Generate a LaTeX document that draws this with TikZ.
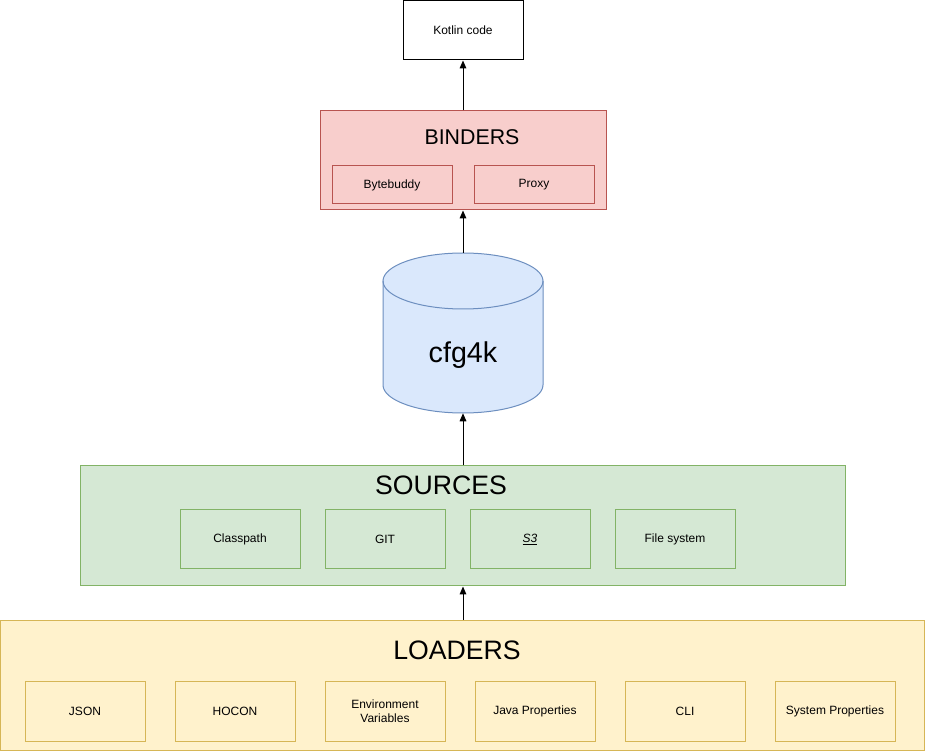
\documentclass[tikz,border=0pt]{standalone}
\usepackage{fontspec}
\setmainfont{Liberation Sans}
\usetikzlibrary{arrows.meta}
\definecolor{redfill}{HTML}{F8CECC}\definecolor{redline}{HTML}{B85450}
\definecolor{bluefill}{HTML}{DAE8FC}\definecolor{blueline}{HTML}{6C8EBF}
\definecolor{greenfill}{HTML}{D5E8D4}\definecolor{greenline}{HTML}{82B366}
\definecolor{yellowfill}{HTML}{FFF2CC}\definecolor{yellowline}{HTML}{D6B656}
\tikzset{
  box/.style={rectangle, inner sep=0pt, line width=0.75pt, font=\fontsize{9}{10.5}\selectfont, align=center},
  redbox/.style={box, draw=redline, fill=redfill},
  greenbox/.style={box, draw=greenline, fill=greenfill},
  yellowbox/.style={box, draw=yellowline, fill=yellowfill},
  title/.style={font=\fontsize{20}{24}\selectfont, inner sep=0pt},
  conn/.style={line width=0.75pt, -{Triangle[length=6pt,width=5pt]}},
}
\begin{document}
\begin{tikzpicture}[x=0.75pt,y=-0.75pt]
\useasboundingbox (0,0) rectangle (926,752);
% Kotlin code
\node[box, draw=black, fill=white, minimum width=90pt, minimum height=44.25pt] (kotlin) at (463,30.5) {Kotlin code};
% Binders
\node[redbox, minimum width=214.5pt, minimum height=74.25pt] (binders) at (463,160.5) {};
\node[title, font=\fontsize{16}{19}\selectfont] (bindt) at (472,137.5) {BINDERS};
\node[redbox, minimum width=90pt, minimum height=28.5pt] (bytebuddy) at (392,185) {Bytebuddy};
\node[redbox, minimum width=90pt, minimum height=28.5pt] (proxy) at (534,185) {Proxy};
% Cylinder
\node[rectangle, minimum width=120pt, minimum height=120pt, inner sep=0pt] (db) at (463,333) {};
\fill[bluefill] (383,281) -- (383,385) arc[start angle=180, end angle=360, x radius=60pt, y radius=21pt] -- (543,281) arc[start angle=0, end angle=180, x radius=60pt, y radius=21pt] -- cycle;
\draw[blueline, line width=0.75pt] (383,281) -- (383,385) arc[start angle=180, end angle=360, x radius=60pt, y radius=21pt] -- (543,281);
\draw[blueline, line width=0.75pt] (463,281) ellipse[x radius=60pt, y radius=21pt];
\node[font=\fontsize{21.5}{25}\selectfont, inner sep=0pt] (dbt) at (463,355) {cfg4k};
% Sources
\node[greenbox, minimum width=573.75pt, minimum height=90pt] (sources) at (462.5,526) {};
\node[title] (sourt) at (441,485) {SOURCES};
\node[greenbox, minimum width=90pt, minimum height=44.25pt] (classpath) at (240,539.5) {Classpath};
\node[greenbox, minimum width=90pt, minimum height=44.25pt] (git) at (385,539.5) {GIT};
\node[greenbox, minimum width=90pt, minimum height=44.25pt] (s3) at (530,539.5) {\underline{\textit{S3}}};
\node[greenbox, minimum width=90pt, minimum height=44.25pt] (fs) at (675,539.5) {File system};
% Loaders
\node[yellowbox, minimum width=693pt, minimum height=97.5pt] (loaders) at (462.5,685.5) {};
\node[title] (loadt) at (457,650) {LOADERS};
\node[yellowbox, minimum width=90pt, minimum height=45pt] (json) at (85,711) {JSON};
\node[yellowbox, minimum width=90pt, minimum height=45pt] (hocon) at (235,711) {HOCON};
\node[yellowbox, minimum width=90pt, minimum height=45pt] (env) at (385,711) {Environment\\Variables};
\node[yellowbox, minimum width=90pt, minimum height=45pt] (java) at (535,711) {Java Properties};
\node[yellowbox, minimum width=90pt, minimum height=45pt] (cli) at (685,711) {CLI};
\node[yellowbox, minimum width=90pt, minimum height=45pt] (sys) at (835,711) {System Properties};
% Connectors
\draw[conn] (binders.north) -- (kotlin.south);
\draw[conn] (db.north) -- (binders.south);
\draw[conn] (sources.north -| db.south) -- (db.south);
\draw[conn] (loaders.north -| db.south) -- (sources.south -| db.south);
\end{tikzpicture}
\end{document}
